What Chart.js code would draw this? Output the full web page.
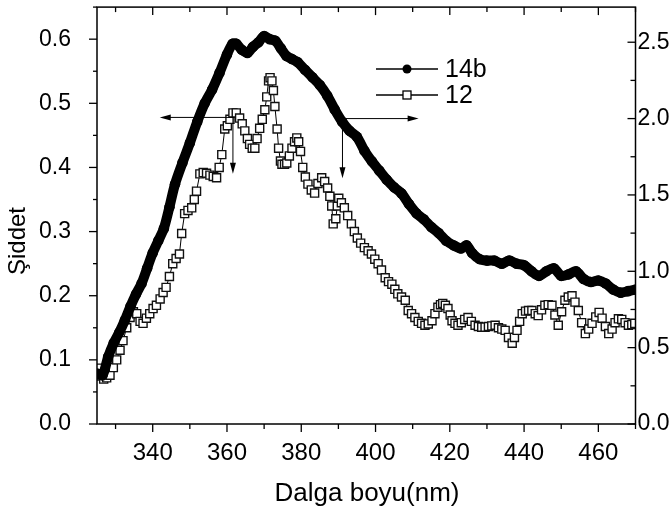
<!DOCTYPE html>
<html>
<head>
<meta charset="utf-8">
<script src="https://cdn.jsdelivr.net/npm/chart.js@4"></script>
<style>
  body { margin: 0; background: #fff; }
  #wrap { width: 671px; height: 515px; position: relative; }
</style>
</head>
<body>
<div id="wrap"><canvas id="chart"></canvas></div>
<script>
// 14b (filled circles, right axis)
const wave14b = [325, 326.5, 328, 329.5, 331, 332.5, 334, 335.5, 337, 338.5, 340, 341.5, 343, 344.5, 346, 348, 350, 352, 354, 356, 358, 360, 361.5, 362.5, 364, 365.5, 367, 368.5, 370, 371.5, 373, 374.5, 376, 377.5, 379, 381, 383, 385, 387, 389, 391, 393, 395, 397, 399, 401, 403, 405, 407, 409, 411, 413, 415, 417, 419, 421, 423, 424.5, 426, 428, 430, 432, 434, 436, 438, 440, 442, 444, 446, 448, 450, 452, 454, 456, 458, 460, 462, 464, 466, 468, 470]
const int14b = [0.33, 0.32, 0.44, 0.53, 0.60, 0.68, 0.77, 0.85, 0.92, 1.02, 1.12, 1.20, 1.28, 1.42, 1.57, 1.71, 1.84, 1.98, 2.10, 2.19, 2.30, 2.42, 2.49, 2.49, 2.45, 2.43, 2.47, 2.50, 2.54, 2.52, 2.51, 2.46, 2.41, 2.39, 2.37, 2.32, 2.27, 2.22, 2.15, 2.06, 1.98, 1.92, 1.88, 1.79, 1.72, 1.66, 1.60, 1.55, 1.51, 1.44, 1.38, 1.34, 1.29, 1.25, 1.20, 1.17, 1.15, 1.17, 1.12, 1.08, 1.07, 1.07, 1.05, 1.07, 1.05, 1.04, 1.00, 0.97, 1.00, 1.02, 0.97, 0.98, 1.00, 0.95, 0.93, 0.94, 0.92, 0.88, 0.86, 0.87, 0.88]

// 12 (open squares, left axis)
const wave12 = [325.3, 326, 326.8, 327.6, 328.5, 329.4, 330.3, 331.2, 332, 333, 333.9, 334.8, 335.7, 336.6, 337.4, 338.3, 339.2, 340.1, 341, 342, 342.8, 343.6, 344.5, 345.4, 346.3, 347.2, 347.8, 348.6, 349.5, 350.5, 351.2, 351.8, 352.7, 353.6, 354.5, 355.4, 356.3, 357.2, 357.9, 358.6, 359.4, 360.1, 360.8, 361.6, 362.5, 363.4, 364.1, 364.8, 365.5, 366.1, 366.8, 367.5, 368.1, 368.8, 369.5, 370.2, 370.7, 371.2, 371.6, 372.1, 372.5, 372.9, 373.5, 373.9, 374.4, 374.8, 375.5, 376.1, 376.8, 377.5, 378.2, 378.8, 379.3, 379.8, 380.4, 381.1, 381.8, 382.7, 383.6, 384.5, 385.5, 386.3, 387.1, 387.7, 388.2, 388.6, 389.3, 389.7, 390.1, 390.8, 391.6, 392.5, 393.5, 394.3, 395.1, 396, 397, 398, 398.9, 399.8, 400.7, 401.6, 402.6, 403.5, 404.4, 405.2, 406, 407, 408, 408.8, 409.7, 410.6, 411.5, 412.4, 413.3, 414.2, 415.2, 416, 416.8, 417.5, 418.1, 418.8, 419.5, 420.1, 420.6, 421.4, 422.2, 423.1, 424, 424.9, 425.8, 426.8, 427.7, 428.6, 429.5, 430.4, 431.3, 432.2, 433.1, 434, 434.9, 435.8, 436.8, 437.4, 438.1, 438.8, 439.5, 440.4, 441.2, 442.1, 443, 443.8, 444.7, 445.6, 446.5, 447.5, 448.3, 449.2, 450.1, 451, 451.9, 452.9, 453.7, 454.6, 455.5, 456.5, 457.4, 458.3, 459.3, 460.2, 461, 461.9, 462.8, 463.7, 464.5, 465.4, 466.3, 467.2, 468.1, 469, 469.8]
const int12 = [0.087, 0.075, 0.07, 0.072, 0.076, 0.088, 0.10, 0.115, 0.13, 0.15, 0.166, 0.175, 0.172, 0.16, 0.157, 0.165, 0.172, 0.18, 0.185, 0.195, 0.205, 0.213, 0.23, 0.25, 0.258, 0.265, 0.297, 0.328, 0.333, 0.337, 0.35, 0.363, 0.39, 0.392, 0.391, 0.388, 0.386, 0.384, 0.40, 0.42, 0.46, 0.465, 0.475, 0.485, 0.485, 0.477, 0.468, 0.457, 0.445, 0.436, 0.43, 0.43, 0.445, 0.461, 0.475, 0.49, 0.51, 0.535, 0.54, 0.535, 0.52, 0.495, 0.46, 0.43, 0.41, 0.405, 0.405, 0.407, 0.418, 0.43, 0.44, 0.446, 0.44, 0.425, 0.40, 0.385, 0.374, 0.365, 0.36, 0.375, 0.384, 0.378, 0.368, 0.355, 0.34, 0.312, 0.32, 0.34, 0.352, 0.345, 0.337, 0.325, 0.312, 0.30, 0.29, 0.282, 0.275, 0.27, 0.265, 0.257, 0.25, 0.24, 0.228, 0.222, 0.218, 0.21, 0.203, 0.198, 0.193, 0.177, 0.172, 0.166, 0.16, 0.157, 0.154, 0.156, 0.161, 0.172, 0.182, 0.186, 0.188, 0.185, 0.18, 0.17, 0.161, 0.157, 0.154, 0.158, 0.163, 0.166, 0.16, 0.154, 0.152, 0.151, 0.151, 0.152, 0.153, 0.154, 0.15, 0.148, 0.146, 0.135, 0.126, 0.135, 0.146, 0.16, 0.172, 0.176, 0.177, 0.177, 0.172, 0.169, 0.178, 0.185, 0.186, 0.185, 0.17, 0.154, 0.175, 0.193, 0.198, 0.2, 0.19, 0.177, 0.158, 0.141, 0.148, 0.157, 0.167, 0.174, 0.165, 0.152, 0.141, 0.148, 0.158, 0.164, 0.163, 0.158, 0.154, 0.155, 0.157]

const xTicks = [340, 360, 380, 400, 420, 440, 460]
const leftTicks = [0, 0.1, 0.2, 0.3, 0.4, 0.5, 0.6]
const rightTicks = [0, 0.5, 1.0, 1.5, 2.0, 2.5]

const FONT = '"Liberation Sans", Arial, sans-serif'

// arrows pointing to which axis each curve belongs to (data units)
const arrows = [
  { axis: 'yLeft', from: [361.8, 0.478], to: [341.9, 0.478] },
  { axis: 'yLeft', from: [361.6, 0.478], to: [361.6, 0.39] },
  { axis: 'yRight', from: [391.1, 2.0], to: [411.6, 2.0] },
  { axis: 'yRight', from: [391.1, 2.0], to: [391.1, 1.61] }
]

const fixTicks = list => s => { s.ticks = list.map(v => ({ value: v })) }
const noPad = s => { s.paddingTop = 0; s.paddingBottom = 0; s.paddingLeft = 0; s.paddingRight = 0 }

const decorations = {
  id: 'decorations',
  afterDraw(chart) {
    const { ctx, chartArea: a, scales } = chart
    const x = scales.x, yl = scales.yLeft, yr = scales.yRight
    const seg = (x1, y1, x2, y2) => { ctx.beginPath(); ctx.moveTo(x1, y1); ctx.lineTo(x2, y2); ctx.stroke() }
    ctx.save()
    ctx.strokeStyle = '#000'
    ctx.lineWidth = 1.5
    ctx.strokeRect(a.left, a.top, a.right - a.left, a.bottom - a.top)

    ctx.lineWidth = 1.3
    // bottom ticks outward, top ticks inward
    for (let v = 330; v <= 470; v += 10) {
      const px = x.getPixelForValue(v)
      const len = xTicks.includes(v) ? 8 : 5
      seg(px, a.bottom, px, a.bottom + len)
      seg(px, a.top, px, a.top + len)
    }
    // left ticks outward
    for (let i = 0; i <= 13; i++) {
      const py = yl.getPixelForValue(i * 0.05)
      seg(a.left, py, a.left - (i % 2 ? 4 : 8), py)
    }
    // right ticks inward
    for (let i = 0; i <= 10; i++) {
      const py = yr.getPixelForValue(i * 0.25)
      seg(a.right, py, a.right - (i % 2 ? 5 : 8), py)
    }

    // arrows
    ctx.lineWidth = 1
    ctx.fillStyle = '#000'
    arrows.forEach(ar => {
      const ys = scales[ar.axis]
      const x1 = x.getPixelForValue(ar.from[0]), y1 = ys.getPixelForValue(ar.from[1])
      const x2 = x.getPixelForValue(ar.to[0]), y2 = ys.getPixelForValue(ar.to[1])
      const ang = Math.atan2(y2 - y1, x2 - x1)
      seg(x1, y1, x2 - 8 * Math.cos(ang), y2 - 8 * Math.sin(ang))
      ctx.beginPath()
      ctx.moveTo(x2, y2)
      ctx.lineTo(x2 - 11 * Math.cos(ang) + 3 * Math.sin(ang), y2 - 11 * Math.sin(ang) - 3 * Math.cos(ang))
      ctx.lineTo(x2 - 11 * Math.cos(ang) - 3 * Math.sin(ang), y2 - 11 * Math.sin(ang) + 3 * Math.cos(ang))
      ctx.closePath()
      ctx.fill()
    })

    // legend
    ctx.lineWidth = 1.3
    seg(376, 69, 438, 69)
    ctx.beginPath(); ctx.arc(407, 69, 4.5, 0, Math.PI * 2); ctx.fill()
    seg(376, 95, 438, 95)
    ctx.fillStyle = '#fff'
    ctx.fillRect(403, 91, 8, 8)
    ctx.strokeRect(403, 91, 8, 8)
    ctx.fillStyle = '#000'
    ctx.font = '25px ' + FONT
    ctx.textBaseline = 'middle'
    ctx.textAlign = 'left'
    ctx.fillText('14b', 445, 70)
    ctx.fillText('12', 445, 96)

    // axis titles
    ctx.font = '26px ' + FONT
    ctx.textAlign = 'center'
    ctx.textBaseline = 'alphabetic'
    ctx.fillText('Dalga boyu(nm)', 367, 501)
    ctx.font = '24px ' + FONT
    ctx.translate(25, 241)
    ctx.rotate(-Math.PI / 2)
    ctx.fillText('Şiddet', 0, 0)
    ctx.restore()
  }
}

new Chart(document.getElementById('chart'), {
  type: 'line',
  data: {
    datasets: [
      {
        label: '14b',
        data: wave14b.map((w, i) => ({ x: w, y: int14b[i] })),
        yAxisID: 'yRight',
        borderColor: '#000',
        backgroundColor: '#000',
        borderWidth: 10,
        pointRadius: 5.3,
        pointBorderWidth: 0,
        pointStyle: 'circle',
        tension: 0.3
      },
      {
        label: '12',
        data: wave12.map((w, i) => ({ x: w, y: int12[i] })),
        yAxisID: 'yLeft',
        borderColor: '#000',
        borderWidth: 1,
        pointStyle: 'rect',
        pointRadius: 5.7,
        pointBorderWidth: 1.4,
        pointBorderColor: '#111',
        pointBackgroundColor: '#fff'
      }
    ]
  },
  options: {
    responsive: true,
    maintainAspectRatio: false,
    animation: false,
    layout: { padding: { top: 6, left: 0, right: 0, bottom: 0 } },
    plugins: { legend: { display: false }, tooltip: { enabled: false } },
    scales: {
      x: {
        type: 'linear',
        position: 'bottom',
        min: 325,
        max: 470,
        grid: { display: false, drawTicks: false },
        border: { display: false },
        ticks: { color: '#000', font: { size: 24, family: FONT }, padding: 15, maxRotation: 0 },
        afterBuildTicks: fixTicks(xTicks),
        afterFit: s => { s.height = 91; noPad(s) }
      },
      yLeft: {
        type: 'linear',
        position: 'left',
        min: 0,
        max: 0.65,
        grid: { display: false, drawTicks: false },
        border: { display: false },
        ticks: { color: '#000', font: { size: 23, family: FONT }, padding: 26, callback: v => v.toFixed(1) },
        afterBuildTicks: fixTicks(leftTicks),
        afterFit: s => { s.width = 97; noPad(s) }
      },
      yRight: {
        type: 'linear',
        position: 'right',
        min: 0,
        max: 2.73,
        grid: { display: false, drawTicks: false },
        border: { display: false },
        ticks: { color: '#000', font: { size: 23, family: FONT }, padding: 2, callback: v => v.toFixed(1) },
        afterBuildTicks: fixTicks(rightTicks),
        afterFit: s => { s.width = 35.5; noPad(s) }
      }
    }
  },
  plugins: [decorations]
})
</script>
</body>
</html>
